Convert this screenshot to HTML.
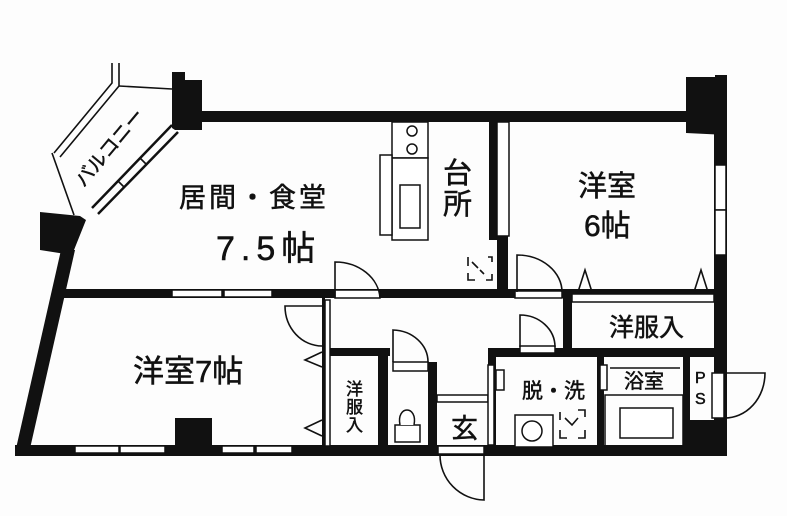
<!DOCTYPE html>
<html><head><meta charset="utf-8"><style>
html,body{margin:0;padding:0;background:#fff}
svg{display:block}
text{font-family:"Liberation Sans","Noto Sans CJK JP",sans-serif;fill:#111;stroke:#111;stroke-width:0.5}
</style></head><body>
<svg width="787" height="516" viewBox="0 0 787 516" xmlns="http://www.w3.org/2000/svg">
<rect width="787" height="516" fill="#fdfdfd"/>
<g fill="#111" stroke="none">
<polygon points="172,72 185,72 185,80 202,80 202,130 175,130 172,128"/>
<polygon points="686,77 715,77 715,75 727,75 727,135 686,133"/>
<polygon points="40,212 80,216 86,220 72,255 40,250"/>
<rect x="175" y="418" width="37" height="36"/>
<rect x="690" y="420" width="37" height="36"/>
<rect x="200" y="111" width="490" height="11"/>
<rect x="714" y="130" width="13" height="326"/>
<polygon points="61,250 75,250 29,453 15,453"/>
<rect x="15" y="445" width="712" height="11"/>
<rect x="60" y="289" width="512" height="9"/>
<rect x="572" y="289" width="150" height="5"/>
<rect x="489" y="120" width="8" height="120"/>
<rect x="497" y="236" width="11" height="60"/>
<rect x="563" y="289" width="9" height="62"/>
<rect x="488" y="348" width="234" height="9"/>
<rect x="488" y="348" width="8" height="104"/>
<rect x="597" y="356" width="7" height="92"/>
<rect x="683" y="356" width="7" height="92"/>
<rect x="322" y="348" width="68" height="8"/>
<rect x="378" y="348" width="10" height="100"/>
<rect x="428" y="362" width="9" height="88"/>
<rect x="322" y="296" width="3" height="150"/>
</g>
<g fill="#fff" stroke="#111" stroke-width="1.5">
<rect x="172" y="290" width="50" height="7"/>
<rect x="224" y="290" width="48" height="7"/>
<rect x="335" y="290" width="45" height="8"/>
<rect x="515" y="291" width="47" height="7"/>
<rect x="572" y="294" width="142" height="8"/>
<rect x="75" y="446" width="44" height="7"/>
<rect x="120" y="446" width="45" height="7"/>
<rect x="222" y="446" width="32" height="7"/>
<rect x="256" y="446" width="36" height="7"/>
<rect x="438" y="446" width="46" height="8"/>
<rect x="715" y="165" width="11" height="45"/>
<rect x="715" y="210" width="11" height="45"/>
<rect x="497" y="122" width="12" height="114"/>
<rect x="325" y="300" width="5" height="146"/>
<rect x="392" y="122" width="36" height="36"/>
<rect x="392" y="158" width="36" height="82"/>
<rect x="400" y="185" width="20" height="43"/>
<rect x="380" y="155" width="12" height="80"/>
<circle cx="412" cy="131" r="5"/>
<circle cx="412" cy="149" r="5"/>
<rect x="393" y="362" width="35" height="9"/>
<path d="M395,442 L395,425 L420,425 L420,442 Z"/>
<path d="M400,425 C396,405 418,405 414,425"/>
<rect x="437" y="395" width="51" height="7"/>
<rect x="488" y="365" width="6" height="80"/>
<rect x="520" y="346" width="35" height="7"/>
<rect x="515" y="415" width="38" height="32"/>
<circle cx="532" cy="431" r="10"/>
<rect x="620" y="408" width="53" height="30"/>
<rect x="605" y="395" width="78" height="52" fill="none"/>
<rect x="600" y="365" width="7" height="25"/>
<rect x="712" y="373" width="12" height="45"/>
<rect x="496" y="370" width="8" height="20"/>
</g>
<g fill="none" stroke="#111" stroke-width="1.6">
<path d="M112,63 L112,83 L54,153"/>
<path d="M119,63 L119,86 L60,157"/>
<path d="M119,86 L172,89"/>
<path d="M52,153 L74,215"/>
<path d="M172,125 L92,208" stroke-width="2.5"/>
<path d="M178,132 L98,214" stroke-width="2.5"/>
<path d="M140,158 L146,164 M118,181 L124,187"/>
<path d="M335,298 L335,262 A45,38 0 0 1 380,298"/>
<path d="M517,292 L517,255 A45,37 0 0 1 562,292"/>
<path d="M322,346 A37,40 0 0 1 285,306 L322,306"/>
<path d="M393,362 L393,330 A36,32 0 0 1 428,362"/>
<path d="M520,347 L520,315 A35,32 0 0 1 555,347"/>
<path d="M484,455 L484,500 A45,45 0 0 1 440,455"/>
<path d="M724,373 L765,373 A40,45 0 0 1 724,418"/>
<path d="M578,292 L585,270 L592,292"/>
<path d="M694,292 L701,270 L708,292"/>
<path d="M322,352 L305,360 L322,367"/>
<path d="M322,420 L305,428 L322,436"/>
<path d="M468,257 L468,266 M468,273 L468,280 L475,280 M488,257 L492,257 L492,262 M486,280 L492,280 L492,274 M472,262 L478,268 M484,274 L480,270"/>
<path d="M560,412 L560,420 M560,430 L560,438 L567,438 M578,410 L585,410 L585,417 M578,438 L585,438 L585,430 M565,418 L572,425 L578,418"/>
<path d="M610,368 L680,368"/>
</g>
<text x="179" y="207" font-size="27" letter-spacing="3">居間・食堂</text>
<text x="216" y="260" font-size="34" letter-spacing="6">7.5帖</text>
<text x="443" y="183" font-size="29">台</text>
<text x="443" y="214" font-size="29">所</text>
<text x="578" y="196" font-size="29">洋室</text>
<text x="584" y="236" font-size="30">6帖</text>
<text x="133" y="382" font-size="31">洋室7帖</text>
<text x="346" y="395" font-size="17">洋</text>
<text x="346" y="413" font-size="17">服</text>
<text x="346" y="431" font-size="17">入</text>
<text x="451" y="438" font-size="27">玄</text>
<text x="522" y="398" font-size="21">脱・洗</text>
<text x="624" y="388" font-size="20">浴室</text>
<text x="695" y="383" font-size="16">P</text>
<text x="695" y="404" font-size="16">S</text>
<text x="609" y="336" font-size="25">洋服入</text>
<text x="0" y="0" font-size="19" transform="translate(84,188) rotate(-50)">バルコニー</text>
</svg>
</body></html>
